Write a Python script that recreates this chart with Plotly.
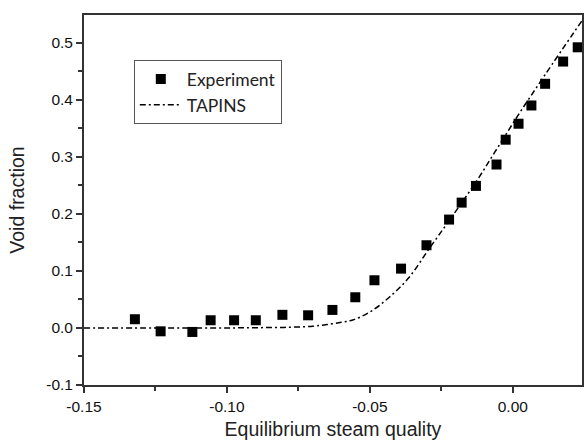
import plotly.graph_objects as go

exp_x = [-0.1322, -0.1232, -0.1121, -0.1057, -0.0975, -0.0899, -0.0806, -0.0716, -0.0631,
         -0.0551, -0.0484, -0.0391, -0.0302, -0.0223, -0.0179, -0.0129, -0.0057, -0.0025,
         0.0020, 0.0065, 0.0113, 0.0176, 0.0227]
exp_y = [0.0153, -0.0059, -0.0070, 0.0135, 0.0135, 0.0135, 0.0230, 0.0222, 0.0316,
         0.0538, 0.0836, 0.1040, 0.1450, 0.1900, 0.2197, 0.2490, 0.2865, 0.3300,
         0.3580, 0.3900, 0.4280, 0.4670, 0.4920]

tap_x = [-0.15, -0.12, -0.10, -0.09, -0.08, -0.07, -0.065, -0.06, -0.056, -0.05, -0.0434,
         -0.0364, -0.0294, -0.0223, -0.013, -0.0062, 0.002, 0.0113, 0.0241]
tap_y = [0.0, 0.0, 0.0, 0.0005, 0.001, 0.003, 0.006, 0.010, 0.014, 0.028, 0.053,
         0.088, 0.138, 0.188, 0.255, 0.309, 0.374, 0.444, 0.538]

x_ticks = [-0.15, -0.10, -0.05, 0.00]
x_tick_labels = ["-0.15", "-0.10", "-0.05", "0.00"]
y_ticks = [-0.1, 0.0, 0.1, 0.2, 0.3, 0.4, 0.5]
y_tick_labels = ["-0.1", "0.0", "0.1", "0.2", "0.3", "0.4", "0.5"]

fig = go.Figure()
fig.add_trace(go.Scatter(x=exp_x, y=exp_y, mode="markers", name="Experiment",
                         marker=dict(symbol="square", size=10, color="black")))
fig.add_trace(go.Scatter(x=tap_x, y=tap_y, mode="lines", name="TAPINS",
                         line=dict(color="black", width=1.5, dash="6px,3px,2px,3px", shape="spline")))

axis_common = dict(showgrid=False, zeroline=False, showline=True, mirror=True,
                   linecolor="#333", linewidth=1.8, ticks="outside", ticklen=6,
                   tickwidth=1.5, tickcolor="#333",
                   tickfont=dict(family="Liberation Sans", size=15.5, color="#111"))

fig.update_xaxes(range=[-0.15, 0.0242], tickvals=x_ticks, ticktext=x_tick_labels,
                 minor=dict(dtick=0.025, ticks="outside", ticklen=4, tickcolor="#333"),
                 title=dict(text="Equilibrium steam quality", standoff=9,
                            font=dict(family="Liberation Sans", size=19.5, color="#222")),
                 **axis_common)
fig.update_yaxes(range=[-0.1, 0.5486], tickvals=y_ticks, ticktext=y_tick_labels,
                 minor=dict(dtick=0.05, ticks="outside", ticklen=4, tickcolor="#333"),
                 title=dict(text="Void fraction", standoff=16,
                            font=dict(family="Liberation Sans", size=19.5, color="#222")),
                 **axis_common)

fig.update_layout(
    width=585, height=440,
    margin=dict(l=84, r=1, t=15, b=55),
    plot_bgcolor="white", paper_bgcolor="white",
    legend=dict(x=0.1, y=0.878, xanchor="left", yanchor="top",
                bordercolor="#555", borderwidth=1, bgcolor="white",
                font=dict(family="Lato", size=17.5, color="#222"),
                itemwidth=42),
)

fig.write_html("out.html")
